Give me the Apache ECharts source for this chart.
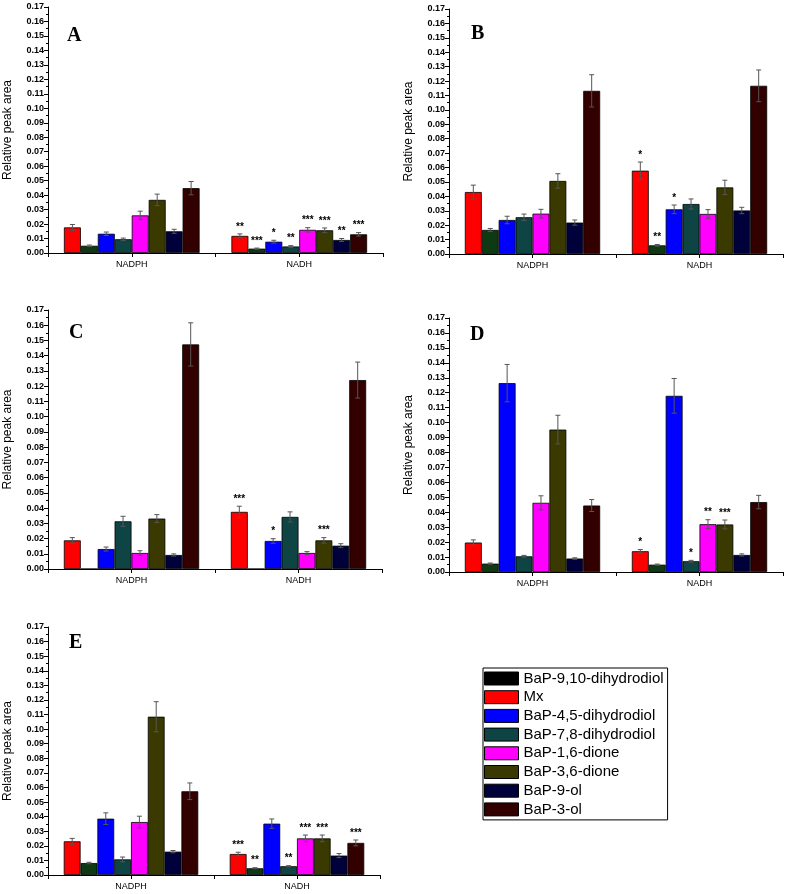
<!DOCTYPE html>
<html>
<head>
<meta charset="utf-8">
<script src="https://cdn.jsdelivr.net/npm/echarts@6/dist/echarts.min.js"></script>
<style>
html,body{margin:0;padding:0;background:#fff;}
#chart{width:787px;height:894px;}
</style>
</head>
<body>
<div id="chart"></div>
<script>
// ---------- data ----------
const categories = ['NADPH', 'NADH'];
const seriesNames = ['Mx', 'BaP-9,10-dihydrodiol', 'BaP-4,5-dihydrodiol', 'BaP-7,8-dihydrodiol',
  'BaP-1,6-dione', 'BaP-3,6-dione', 'BaP-9-ol', 'BaP-3-ol'];
const legendOrder = ['BaP-9,10-dihydrodiol', 'Mx', 'BaP-4,5-dihydrodiol', 'BaP-7,8-dihydrodiol',
  'BaP-1,6-dione', 'BaP-3,6-dione', 'BaP-9-ol', 'BaP-3-ol'];
const yTicks = [0, 0.17, 0.01]; // min, max, step
const panelLetters = ['A', 'B', 'C', 'D', 'E'];

// means: [NADPH values by series, NADH values by series]
const meanA = [[0.0177, 0.0050, 0.0133, 0.0095, 0.0260, 0.0367, 0.0150, 0.0448],
               [0.0118, 0.0030, 0.0078, 0.0045, 0.0160, 0.0157, 0.0090, 0.0129]];
const errA  = [[0.0020, 0.0005, 0.0012, 0.0008, 0.0029, 0.0040, 0.0014, 0.0046],
               [0.0014, 0.0004, 0.0010, 0.0006, 0.0015, 0.0016, 0.0010, 0.0012]];
const sigA  = [['', '', '', '', '', '', '', ''],
               ['**', '***', '*', '**', '***', '***', '**', '***']];

const meanB = [[0.0430, 0.0167, 0.0236, 0.0255, 0.0280, 0.0507, 0.0218, 0.1132],
               [0.0578, 0.0060, 0.0310, 0.0347, 0.0278, 0.0462, 0.0302, 0.1167]];
const errB  = [[0.0048, 0.0010, 0.0026, 0.0022, 0.0030, 0.0050, 0.0018, 0.0112],
               [0.0060, 0.0006, 0.0030, 0.0035, 0.0030, 0.0050, 0.0022, 0.0110]];
const sigB  = [['', '', '', '', '', '', '', ''],
               ['*', '**', '*', '', '', '', '', '']];

const meanC = [[0.0188, 0, 0.0131, 0.0313, 0.0105, 0.0331, 0.0092, 0.1474],
               [0.0375, 0, 0.0184, 0.0342, 0.0105, 0.0188, 0.0153, 0.1240]];
const errC  = [[0.0018, 0, 0.0013, 0.0033, 0.0015, 0.0026, 0.0007, 0.0142],
               [0.0037, 0, 0.0015, 0.0033, 0.0009, 0.0018, 0.0013, 0.0118]];
const sigC  = [['', '', '', '', '', '', '', ''],
               ['***', '', '*', '', '', '***', '', '']];

const meanD = [[0.0197, 0.0056, 0.1264, 0.0105, 0.0463, 0.0953, 0.0090, 0.0445],
               [0.0139, 0.0049, 0.1179, 0.0072, 0.0320, 0.0318, 0.0114, 0.0468]];
const errD  = [[0.0018, 0.0004, 0.0125, 0.0006, 0.0047, 0.0096, 0.0005, 0.0040],
               [0.0011, 0.0004, 0.0116, 0.0006, 0.0030, 0.0030, 0.0007, 0.0045]];
const sigD  = [['', '', '', '', '', '', '', ''],
               ['*', '', '', '*', '**', '***', '', '']];

const meanE = [[0.0231, 0.0082, 0.0386, 0.0107, 0.0363, 0.1085, 0.0160, 0.0574],
               [0.0144, 0.0046, 0.0352, 0.0060, 0.0251, 0.0251, 0.0133, 0.0220]];
const errE  = [[0.0020, 0.0005, 0.0040, 0.0016, 0.0040, 0.0103, 0.0008, 0.0057],
               [0.0012, 0.0004, 0.0032, 0.0004, 0.0023, 0.0023, 0.0014, 0.0020]];
const sigE  = [['', '', '', '', '', '', '', ''],
               ['***', '**', '', '**', '***', '***', '', '***']];

// ---------- style ----------
const colors = ['#ff0000', '#0d3a12', '#0000ff', '#0f4444', '#ff00ff', '#3a3a00', '#00003a', '#330000'];
const grids = [
  {left: 48,  top: 7,   width: 335, height: 246},
  {left: 449, top: 9,   width: 334, height: 245},
  {left: 48,  top: 310, width: 334, height: 259},
  {left: 449, top: 318, width: 334, height: 254},
  {left: 48,  top: 627, width: 332, height: 248}
];
const letterPos = [[62, 21], [466, 19], [64, 318], [465, 320], [64, 628]];
const CAT_GAP = 0.19;

const panels = [
  {mean: meanA, err: errA, sig: sigA},
  {mean: meanB, err: errB, sig: sigB},
  {mean: meanC, err: errC, sig: sigC},
  {mean: meanD, err: errD, sig: sigD},
  {mean: meanE, err: errE, sig: sigE}
];

const font = 'Liberation Sans, Arial, sans-serif';
const xAxis = [], yAxis = [], series = [], title = [];

panels.forEach((p, i) => {
  xAxis.push({
    type: 'category', gridIndex: i, data: categories, position: 'bottom',
    axisLine: {lineStyle: {color: '#000', width: 1}},
    axisTick: {show: true, alignWithLabel: true, length: 4, lineStyle: {color: '#000'}},
    axisLabel: {fontSize: 9, color: '#000', fontFamily: font, margin: 7}
  });
  xAxis.push({
    type: 'category', gridIndex: i, data: categories, position: 'bottom',
    axisLine: {show: false},
    axisTick: {show: true, length: 4, lineStyle: {color: '#000'}},
    axisLabel: {show: false}
  });
  yAxis.push({
    type: 'value', gridIndex: i, min: yTicks[0], max: yTicks[1], interval: yTicks[2],
    name: 'Relative peak area', nameLocation: 'middle', nameGap: 34,
    nameTextStyle: {fontSize: 12, color: '#000', fontFamily: font},
    axisLine: {show: true, lineStyle: {color: '#000', width: 1}},
    axisTick: {show: true, length: 4, lineStyle: {color: '#000'}},
    minorTick: {show: true, splitNumber: 2, length: 2, lineStyle: {color: '#000'}},
    splitLine: {show: false},
    axisLabel: {fontSize: 9, fontWeight: 'bold', color: '#000', fontFamily: font, margin: 4,
      formatter: v => v.toFixed(2)}
  });
  title.push({
    text: panelLetters[i], left: letterPos[i][0], top: letterPos[i][1],
    textStyle: {fontFamily: 'Liberation Serif, Times New Roman, serif', fontWeight: 'bold', fontSize: 20, color: '#000'}
  });
  seriesNames.forEach((name, s) => {
    series.push({
      type: 'bar', name: name, xAxisIndex: 2 * i, yAxisIndex: i,
      data: categories.map((c, k) => p.mean[k][s]),
      barGap: '0%', barCategoryGap: (CAT_GAP * 100) + '%',
      itemStyle: {color: colors[s], borderColor: '#000', borderWidth: 0.8},
      emphasis: {disabled: true}
    });
  });
  const errData = [];
  categories.forEach((c, k) => {
    seriesNames.forEach((name, s) => {
      errData.push([k, s, p.mean[k][s], p.err[k][s]]);
    });
  });
  series.push({
    type: 'custom', name: 'err' + i, xAxisIndex: 2 * i, yAxisIndex: i, z: 5,
    data: errData, silent: true,
    renderItem: (params, api) => {
      const k = api.value(0), s = api.value(1), v = api.value(2), e = api.value(3);
      const star = p.sig[k][s];
      if (!v) return null;
      const center = api.coord([k, 0]);
      const band = api.size([1, 0])[0];
      const bw = band * (1 - CAT_GAP) / 8;
      const x = center[0] + (s - 3.5) * bw;
      const yt = api.coord([k, v + e])[1];
      const yb = api.coord([k, v - e])[1];
      const cap = 2.5;
      const children = [];
      if (e > 0) {
        const ls = {stroke: '#555', lineWidth: 1};
        children.push({type: 'line', shape: {x1: x, y1: yt, x2: x, y2: yb}, style: ls});
        children.push({type: 'line', shape: {x1: x - cap, y1: yt, x2: x + cap, y2: yt}, style: ls});
        children.push({type: 'line', shape: {x1: x - cap, y1: yb, x2: x + cap, y2: yb}, style: ls});
      }
      if (star) {
        children.push({type: 'text', x: x, y: yt - 2,
          style: {text: star, fill: '#000', font: 'bold 10px ' + font, align: 'center', verticalAlign: 'bottom'}});
      }
      return {type: 'group', children: children};
    }
  });
});

const legendData = legendOrder.map(n => n === 'BaP-9,10-dihydrodiol'
  ? {name: n, itemStyle: {color: '#000', borderColor: '#000', borderWidth: 1}}
  : {name: n, itemStyle: {borderColor: '#000', borderWidth: 1}});

const option = {
  backgroundColor: '#fff',
  animation: false,
  title: title,
  grid: grids.map(g => Object.assign({containLabel: false}, g)),
  xAxis: xAxis,
  yAxis: yAxis,
  legend: {
    data: legendData, orient: 'vertical', left: 483, top: 668,
    icon: 'rect', itemWidth: 34, itemHeight: 13, itemGap: 3.7,
    padding: [3, 4, 3, 1], borderColor: '#000', borderWidth: 1,
    selectedMode: false,
    textStyle: {fontSize: 15, lineHeight: 15, color: '#000', fontFamily: font}
  },
  series: series
};

const chart = echarts.init(document.getElementById('chart'), null, {renderer: 'canvas'});
chart.setOption(option);
</script>
</body>
</html>
